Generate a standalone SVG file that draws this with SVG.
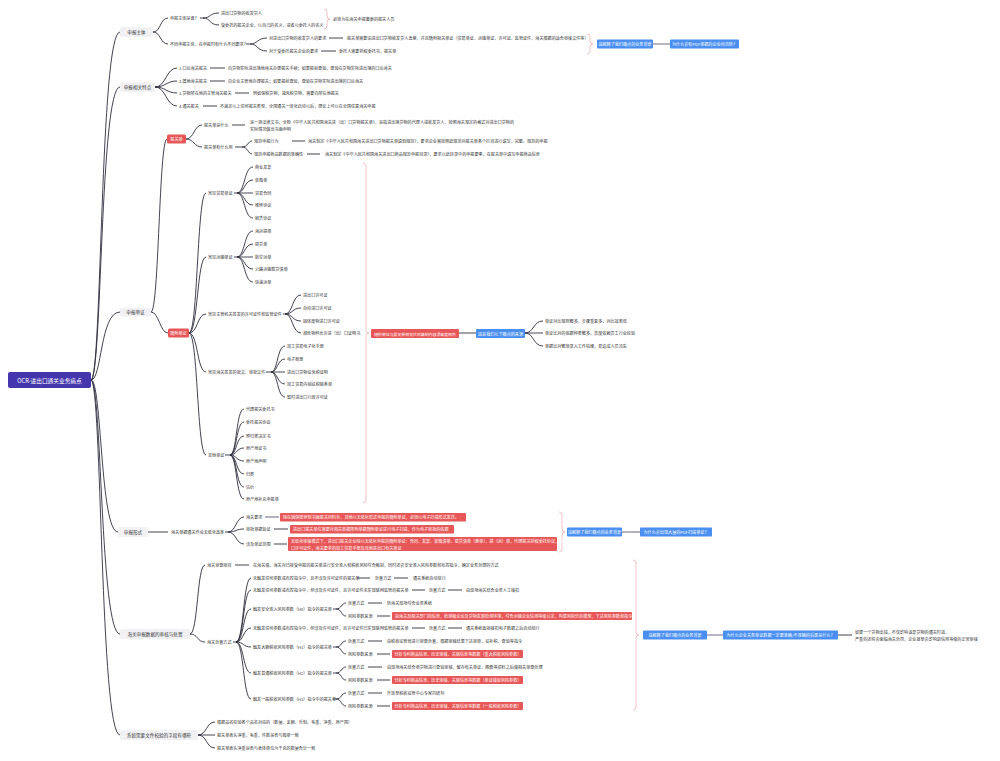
<svg xmlns="http://www.w3.org/2000/svg" width="1000" height="761" viewBox="0 0 1000 761">
<style>
text{font-family:"Noto Sans CJK SC","Noto Sans",sans-serif;font-size:4.1px;fill:#333;dominant-baseline:central}
.w{fill:#fff}
.c{text-anchor:middle}
.l1{font-size:4.6px}
.rt{font-size:5.7px;fill:#fff;text-anchor:middle}
.ln{fill:none;stroke:#2e2e40;stroke-width:0.9}
.gl{fill:none;stroke:#9a9aa8;stroke-width:1.4}
.br{fill:none;stroke:#f09a9a;stroke-width:0.6}
.red{fill:#e85757}
.blue{fill:#4a8ff0}
.gray{fill:#f1f1f3}
</style>
<rect width="1000" height="761" fill="#fff"/>
<g id="connectors">
<path class="ln" d="M91 380C102 380 100 32 120 32M91 380C102 380 100 87 120 87M91 380C102 380 100 312 120 312M91 380C102 380 100 532 118 532M91 380C102 380 100 634 120 634M91 380C102 380 100 735 120 735"/>
<path class="ln" d="M153 32C161 32 160 18 168 18M153 32C161 32 160 44 168 44M200 18L203 18C211 18 209 13 219 13M203 18C211 18 209 25 219 25M246 44L250 44C258 44 257 38 267 38M250 44C258 44 257 51 267 51M329 38L343 38M321 51L336 51"/>
<path class="br" d="M324 9Q327 9 327 12L327 16Q327 19 330 19Q327 19 327 22L327 26Q327 29 324 29"/>
<path class="br" d="M587 34Q590 34 590 37L590 41Q590 44 593 44Q590 44 590 47L590 51Q590 54 587 54"/>
<path class="gl" d="M653 44L670 44"/>
<path class="ln" d="M155 87C166 87 166 68 177 68M155 87C166 87 166 81 177 81M155 87C166 87 166 93 177 93M155 87C166 87 166 106 177 106M210 68L225 68M210 81L225 81M235 93L249 93M203 106L217 106"/>
<path class="ln" d="M151 312C159 312 159 139 167 139M151 312C159 312 160 333 168 333M186 139C194 139 194 125 202 125M186 139C194 139 194 147 202 147M232 125L245 125M235 147L242 147C248 147 248 141 252 141M242 147C248 147 248 154 252 154M292 141L305 141M307 154L320 154"/>
<path class="ln" d="M189 333C198 333 197 193 206 193M189 333C198 333 197 257 206 257M189 333C198 333 197 314 206 314M189 333C198 333 197 372 206 372M189 333C198 333 197 455 206 455"/>
<path class="ln" d="M234 193L237 193C245 193 244 167 253 167M237 193C245 193 244 180 253 180M237 193C245 193 244 193 253 193M237 193C245 193 244 205 253 205M237 193C245 193 244 218 253 218"/>
<path class="ln" d="M234 257L237 257C245 257 244 231 253 231M237 257C245 257 244 244 253 244M237 257C245 257 244 257 253 257M237 257C245 257 244 269 253 269M237 257C245 257 244 282 253 282"/>
<path class="ln" d="M283 314L285 314C293 314 292 295 301 295M285 314C293 314 292 308 301 308M285 314C293 314 292 321 301 321M285 314C293 314 292 333 301 333"/>
<path class="ln" d="M266 372L271 372C278 372 277 346 285 346M271 372C278 372 277 359 285 359M271 372C278 372 277 372 285 372M271 372C278 372 277 384 285 384M271 372C278 372 277 397 285 397"/>
<path class="ln" d="M225 455L230 455C237 455 236 409 244 409M230 455C237 455 236 422 244 422M230 455C237 455 236 436 244 436M230 455C237 455 236 448 244 448M230 455C237 455 236 461 244 461M230 455C237 455 236 474 244 474M230 455C237 455 236 487 244 487M230 455C237 455 236 499 244 499"/>
<path class="br" d="M363 163Q366 163 366 166L366 330Q366 333 369 333Q366 333 366 336L366 500Q366 503 363 503"/>
<path class="ln" d="M459 333L476 333M525 333C534 333 533 321 543 321M525 333C534 333 533 333 543 333M525 333C534 333 533 346 543 346"/>
<path class="ln" d="M148 532L168 532M225 532L228 532C236 532 236 517 244 517M228 532C236 532 236 529 244 529M228 532C236 532 236 544 244 544M274 529L288 529M274 544L287 544"/>
<path class="gl" d="M265 517L279 517M622 532L640 532"/>
<path class="br" d="M559 512Q562 512 562 515L562 529Q562 532 565 532Q562 532 562 535L562 549Q562 552 559 552"/>
<path class="ln" d="M190 634C198 634 197 565 205 565M190 634C198 634 197 642 205 642M235 565L249 565M233 642L236 642C244 642 243 578 251 578M236 642C244 642 243 590 251 590M236 642C244 642 243 609 251 609M236 642C244 642 243 628 251 628M236 642C244 642 243 647 251 647M236 642C244 642 243 673 251 673M236 642C244 642 243 699 251 699"/>
<path class="ln" d="M357 578L370 578M394 578L408 578M412 590L425 590M448 590L462 590M412 628L425 628M448 628L462 628"/>
<path class="ln" d="M333 609L336 609C342 609 341 603 346 603M336 609C342 609 341 616 346 616M368 603L382 603M377 616L390 616"/>
<path class="ln" d="M333 647L336 647C342 647 341 641 346 641M336 647C342 647 341 654 346 654M368 641L382 641M377 654L390 654"/>
<path class="ln" d="M333 673L336 673C342 673 341 667 346 667M336 673C342 673 341 680 346 680M368 667L382 667M377 680L390 680"/>
<path class="ln" d="M333 699L336 699C342 699 341 693 346 693M336 699C342 699 341 706 346 706M368 693L382 693M377 706L390 706"/>
<path class="br" d="M633 560Q636 560 636 563L636 632Q636 635 639 635Q636 635 636 638L636 707Q636 710 633 710"/>
<path class="gl" d="M707 635L723 635"/>
<path class="ln" d="M838 635L852 635"/>
<path class="ln" d="M198 735C207 735 206 722 215 722M198 735C207 735 206 735 215 735M198 735C207 735 206 748 215 748"/>
</g>
<g id="root"><rect x="8" y="372" width="83" height="16" rx="2" fill="#4536ad"/><text class="rt" x="49.5" y="380">OCR-进出口通关业务痛点</text></g>
<g id="n1"><rect class="gray" x="120" y="27" width="33" height="10" rx="2"/><text class="l1 c" x="136.5" y="32">申报主体</text></g>
<g id="n1a"><text x="170" y="18">申报主体是谁？</text></g>
<g id="n1a1"><text x="221" y="13">进出口货物的收发货人</text></g>
<g id="n1a2"><text x="221" y="25">受委托的报关企业，以自己的名义，或者以委托人的名义</text></g>
<g id="n1a3"><text x="333" y="19">必须为在海关申报备案的报关人员</text></g>
<g id="n1b"><text x="170" y="44">不同申报主体，在申报时有什么不同要求？</text></g>
<g id="n1b1"><text x="269" y="38">对进出口货物的收发货人的要求</text></g>
<g id="n1b1a"><text x="347" y="38">报关单需要由进出口货物收发货人盖章，并且随附相关单证（贸易单证、运输单证、许可证、监管证件、海关根据的适合审核文件等）</text></g>
<g id="n1b2"><text x="269" y="51">对于受委托报关企业的要求</text></g>
<g id="n1b2a"><text x="339" y="51">委托人需要授权委托书，报关单</text></g>
<g id="n1c"><rect class="blue" x="597" y="39.5" width="56" height="9" rx="1"/><text class="w c" x="625" y="44">这解释了我们痛点的业务背景</text></g>
<g id="n1d"><rect class="blue" x="670" y="39.5" width="69" height="9" rx="1"/><text class="w c" x="704.5" y="44">为什么会有PDF单据的企业间流转？</text></g>
<g id="n2"><rect class="gray" x="120" y="82" width="35" height="10" rx="2"/><text class="l1 c" x="137.5" y="87">申报相关特点</text></g>
<g id="n2a"><text x="179" y="68">1.口岸海关报关</text><text x="228" y="68">向货物实际进出境地海关办理报关手续；如果报前查验，查验在货物实际进出境的口岸海关</text></g>
<g id="n2b"><text x="179" y="81">2.属地海关报关</text><text x="228" y="81">向企业主管地办理报关；如果报前查验，查验在货物实际进出境的口岸海关</text></g>
<g id="n2c"><text x="179" y="93">3.货物所在地的主管海关报关</text><text x="253" y="93">例如保税货物，减免税货物，需要向所在地报关</text></g>
<g id="n2d"><text x="179" y="106">4.通关报关</text><text x="220" y="106">不满足以上任何报关类型，全国通关一体化启动以后，理论上可以在全国任意海关申报</text></g>
<g id="n3"><rect class="gray" x="120" y="307.5" width="31" height="9" rx="2"/><text class="l1 c" x="135.5" y="312">申报单证</text></g>
<g id="n3a"><rect class="red" x="167" y="134.5" width="19" height="9" rx="1.5"/><text class="w c" x="176.5" y="139">报关单</text></g>
<g id="n3a1"><text x="204" y="125">报关单是什么</text><text x="250" y="122">是一项法律文书，全称《中华人民共和国海关进（出）口货物报关单》，是指进出境货物的代理人或收发货人，按照海关规定的格式对进出口货物的</text><text x="250" y="129">实际情况做出书面申明</text></g>
<g id="n3a2"><text x="204" y="147">报关单有什么用</text></g>
<g id="n3a2a"><text x="254" y="141">规范申报行为</text><text x="308" y="141">海关制定《中华人民共和国海关进出口货物报关单填制规范》，要求企业需按照此规范对报关单各个栏目进行填写，完整、规范的申报</text></g>
<g id="n3a2b"><text x="254" y="154">规范申报商品数据的准确性</text><text x="325" y="154">海关制定《中华人民共和国海关进出口商品规范申报目录》，要求以此目录中的申报要素，在报关单中填写申报商品信息</text></g>
<g id="n3b"><rect class="red" x="168" y="328.5" width="21" height="9" rx="1.5"/><text class="w c" x="178.5" y="333">随附单证</text></g>
<g id="n3b1"><text x="208" y="193">常见贸易单证</text><text x="255" y="167">商业发票</text><text x="255" y="180">装箱单</text><text x="255" y="193">贸易合同</text><text x="255" y="205">维修协议</text><text x="255" y="218">租赁协议</text></g>
<g id="n3b2"><text x="208" y="257">常见运输单证</text><text x="255" y="231">海运提单</text><text x="255" y="244">提货单</text><text x="255" y="257">航空运单</text><text x="255" y="269">公路运输载货清单</text><text x="255" y="282">快递运单</text></g>
<g id="n3b3"><text x="208" y="314">常见主管机关签发的许可证件和监管证件</text><text x="303" y="295">进出口许可证</text><text x="303" y="308">自动进口许可证</text><text x="303" y="321">固体废物进口许可证</text><text x="303" y="333">濒危物种允许进（出）口证明书</text></g>
<g id="n3b4"><text x="208" y="372">常见海关签发的批文、审批文件</text><text x="287" y="346">加工贸易电子化手册</text><text x="287" y="359">电子账册</text><text x="287" y="372">进出口货物征免税证明</text><text x="287" y="384">加工贸易内销征税联系单</text><text x="287" y="397">暂时进出口行政许可证</text></g>
<g id="n3b5"><text x="208" y="455">其他单证</text><text x="246" y="409">代理报关委托书</text><text x="246" y="422">委托报关协议</text><text x="246" y="436">预归类决定书</text><text x="246" y="448">原产地证书</text><text x="246" y="461">原产地声明</text><text x="246" y="474">归类</text><text x="246" y="487">估价</text><text x="246" y="499">原产地补充申报单</text></g>
<g id="n3c"><rect class="red" x="371" y="329" width="88" height="9" rx="1"/><text class="w c" x="415" y="333.5" style="font-size:3.9px">随附单证与报关单相关栏目填制内容须高度相符</text></g>
<g id="n3d"><rect class="blue" x="476" y="329" width="49" height="9" rx="1"/><text class="w c" x="500.5" y="333.5">这是我们以下痛点的来源</text></g>
<g id="n3e"><text x="545" y="321">单证对比规则繁多，步骤重复多，对比效率低</text><text x="545" y="333">单证比对的依据种类繁多，高度依赖员工行业经验</text><text x="545" y="346">单据比对繁琐录入工作枯燥，易造成人员流失</text></g>
<g id="n4"><rect class="gray" x="118" y="527" width="30" height="10" rx="2"/><text class="l1 c" x="133" y="532">申报形式</text></g>
<g id="n4a"><text x="171" y="532">海关单据通关作业无纸化改革</text></g>
<g id="n4b"><text x="246" y="517">海关要求</text><rect class="red" x="280" y="513" width="186" height="8.5" rx="1"/><text class="w" x="283" y="517.2">除在因保密原则书面报关材料外，其他以无纸化形式申报的随附单证，必须以电子扫描形式发送。</text></g>
<g id="n4c"><text x="246" y="529">审批单据验证</text><rect class="red" x="290" y="525" width="164" height="8.5" rx="1"/><text class="w" x="293" y="529.2">进出口报关单位需要对相关单据所附单据随附单证进行电子扫描，作为电子审批的依据</text></g>
<g id="n4d"><text x="246" y="544">涉及单证范围</text><rect class="red" x="288" y="537" width="269" height="14" rx="1"/><text class="w" x="291" y="541">无纸化审核模式下，进出口报关企业除以无纸化申报的随附单证：合同、发票、装箱清单、载货清单（舱单）、提（运）单，代理报关授权委托协议，进出</text><text class="w" x="291" y="547.5">口许可证件，海关要求的加工贸易手册及其他进出口有关单证</text></g>
<g id="n4e"><rect class="blue" x="567" y="527.5" width="55" height="9" rx="1"/><text class="w c" x="594.5" y="532">这解释了我们痛点的业务背景</text></g>
<g id="n4f"><rect class="blue" x="640" y="527.5" width="72" height="9" rx="1"/><text class="w c" x="676" y="532">为什么会出现大量的PDF扫描单证？</text></g>
<g id="n5"><rect class="gray" x="120" y="629" width="70" height="10" rx="2"/><text class="l1 c" x="155" y="634">海关申报数据的审核与处置</text></g>
<g id="n5a"><text x="207" y="565">海关审查项目</text><text x="253" y="565">在海关端，海关对已接受申报的报关单进行安全准入和税收风险综合甄别，同时还会安全准入风险参数和布控指令，确定业务处理的方式</text></g>
<g id="n5b"><text x="207" y="642">海关处置方式</text></g>
<g id="n5b1"><text x="253" y="578">未触发任何参数或布控指令中，且不涉及许可证件的报关单</text><text x="375" y="578">处置方式</text><text x="413" y="578">通关系统自动放行</text></g>
<g id="n5b2"><text x="253" y="590">未触发任何参数或布控指令中，但涉及许可证件，且许可证件未实现联网监管的报关单</text><text x="429" y="590">处置方式</text><text x="466" y="590">由现场海关结合业务人工核扣</text></g>
<g id="n5b3"><text x="253" y="609">触发安全准入风险参数（H0）指令的报关单</text><text x="348" y="603">处置方式</text><text x="387" y="603">转海关现场综合业务系统</text><text x="348" y="616">风险参数来源</text><rect class="red" x="392" y="612" width="240" height="8" rx="1"/><text class="w" x="395" y="616">由海关及相关部门的信息，检测被企业及货物发展检测环境，综合运输企业信用等级认定，构建风险分析模型，下达风险参数和指令</text></g>
<g id="n5b4"><text x="253" y="628">未触发任何参数或布控指令中，但涉及许可证件，且许可证件已实现联网监管的报关单</text><text x="429" y="628">处置方式</text><text x="466" y="628">通关系统直接核扣电子数据之后自动放行</text></g>
<g id="n5b5"><text x="253" y="647">触发大额税收风险参数（H1）指令的报关单</text><text x="348" y="641">处置方式</text><text x="387" y="641">由税收征管局进行审查处置，根据审核结果下达审单、征补税、查验等指令</text><text x="348" y="654">风险参数来源</text><rect class="red" x="392" y="650" width="131" height="8" rx="1"/><text class="w" x="394.5" y="654">分析专利商品信息、历史审核、关联信息等数据（重大税收风险参数）</text></g>
<g id="n5b6"><text x="253" y="673">触发普通税收风险参数（H2）指令的报关单</text><text x="348" y="667">处置方式</text><text x="387" y="667">由现场海关结合单货物进行查验审核，留存有关单证、图像等资料之后做相关审查处理</text><text x="348" y="680">风险参数来源</text><rect class="red" x="392" y="676" width="131" height="8" rx="1"/><text class="w" x="394.5" y="680">分析专利商品信息、历史审核、关联信息等数据（单证核验风险参数）</text></g>
<g id="n5b7"><text x="253" y="699">触发一般税收风险参数（H3）指令中的报关单</text><text x="348" y="693">处置方式</text><text x="387" y="693">升放至税收征管中心专家岗研判</text><text x="348" y="706">风险参数来源</text><rect class="red" x="392" y="702" width="131" height="8" rx="1"/><text class="w" x="394.5" y="706">分析专利商品信息、历史审核、关联信息等数据（一般税收风险参数）</text></g>
<g id="n5c"><rect class="blue" x="643" y="630.5" width="64" height="9" rx="1"/><text class="w c" x="675" y="635">这解释了我们痛点的业务背景</text></g>
<g id="n5d"><rect class="blue" x="723" y="630.5" width="115" height="9" rx="1"/><text class="w c" x="780.5" y="635">为什么企业关务单证数据一定要准确/不准确的后果是什么？</text></g>
<g id="n5e"><text x="855" y="632">如果一个货物出错，不仅影响该票货物的通关时效，</text><text x="855" y="638.5">严重的还将会面临海关处罚，企业甚至会影响到信用等级的正常审核</text></g>
<g id="n6"><rect class="gray" x="120" y="730" width="78" height="10" rx="2"/><text class="l1 c" x="159" y="735">系统需要文件校验的字段有哪些</text></g>
<g id="n6a"><text x="217" y="722">根据品名校验各个品名对应的（数量、金额、币制、毛重、净重、原产国）</text><text x="217" y="735">报关单表头净重、毛重、件数是否与箱单一致</text><text x="217" y="748">报关单表头净重是否与表体单位为千克的数量合计一致</text></g>
</svg>
